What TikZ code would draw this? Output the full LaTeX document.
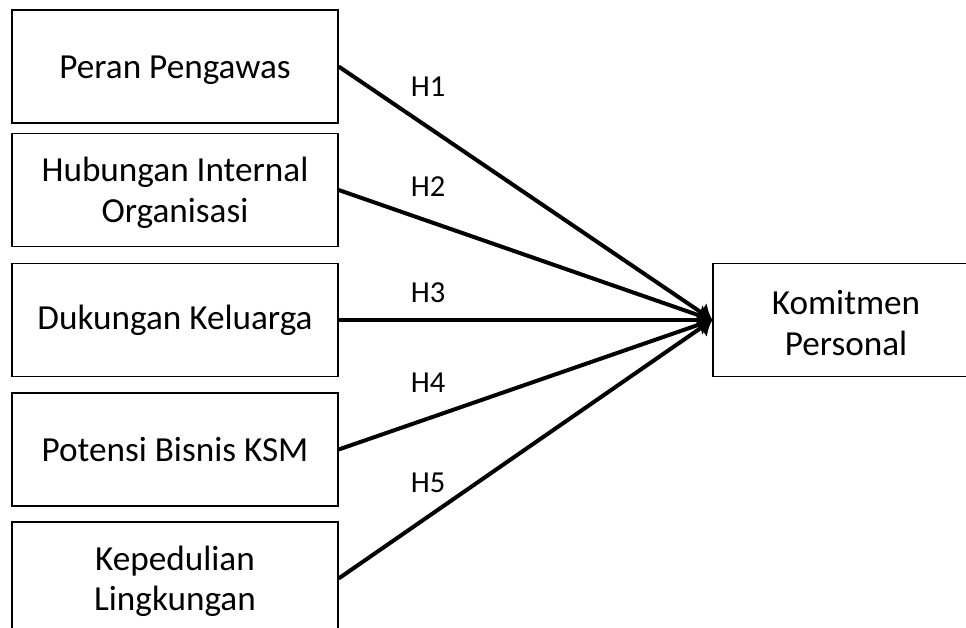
\documentclass[tikz,border=0pt]{standalone}
\usepackage{fontspec}
\setmainfont{Carlito}
\usetikzlibrary{arrows.meta}
\newcommand\boxstrut{\rule{0pt}{30pt}}
\begin{document}
\begin{tikzpicture}[x=1pt,y=-1pt,
  box/.style={draw=black,line width=1.3pt,minimum width=326pt,minimum height=113pt,inner sep=0pt,align=center,font=\fontsize{35.2}{40.5}\selectfont,text=black},
  rbox/.style={box,minimum width=266pt},
  link/.style={line width=4pt,-{Latex[length=14pt,width=22pt]}},
  hlabel/.style={anchor=base,font=\fontsize{30.5}{36}\selectfont,text=black,inner sep=0pt}]
\useasboundingbox (0,0) rectangle (966,628);
\begin{scope}
\clip (0,0) rectangle (966,628);
\node[box] (b1) at (175,66.5) {\boxstrut Peran Pengawas};
\node[box] (b2) at (175,190) {\boxstrut Hubungan Internal\\Organisasi};
\node[box] (b3) at (175,320) {Dukungan Keluarga};
\node[box] (b4) at (175,449.5) {Potensi Bisnis KSM};
\node[box] (b5) at (175,578.5) {\boxstrut Kepedulian\\Lingkungan};
\node[rbox] (k) at (846,320) {\boxstrut Komitmen\\Personal};
\draw[link] (b1.east) -- (k.west);
\draw[link] (b2.east) -- (k.west);
\draw[link] (b3.east) -- (k.west);
\draw[link] (b4.east) -- (k.west);
\draw[link] (b5.east) -- (k.west);
\node[hlabel] (h1) at (428,97) {H1};
\node[hlabel] (h2) at (428,197) {H2};
\node[hlabel] (h3) at (428,302) {H3};
\node[hlabel] (h4) at (428,392) {H4};
\node[hlabel] (h5) at (428,492) {H5};
\end{scope}
\end{tikzpicture}
\end{document}
